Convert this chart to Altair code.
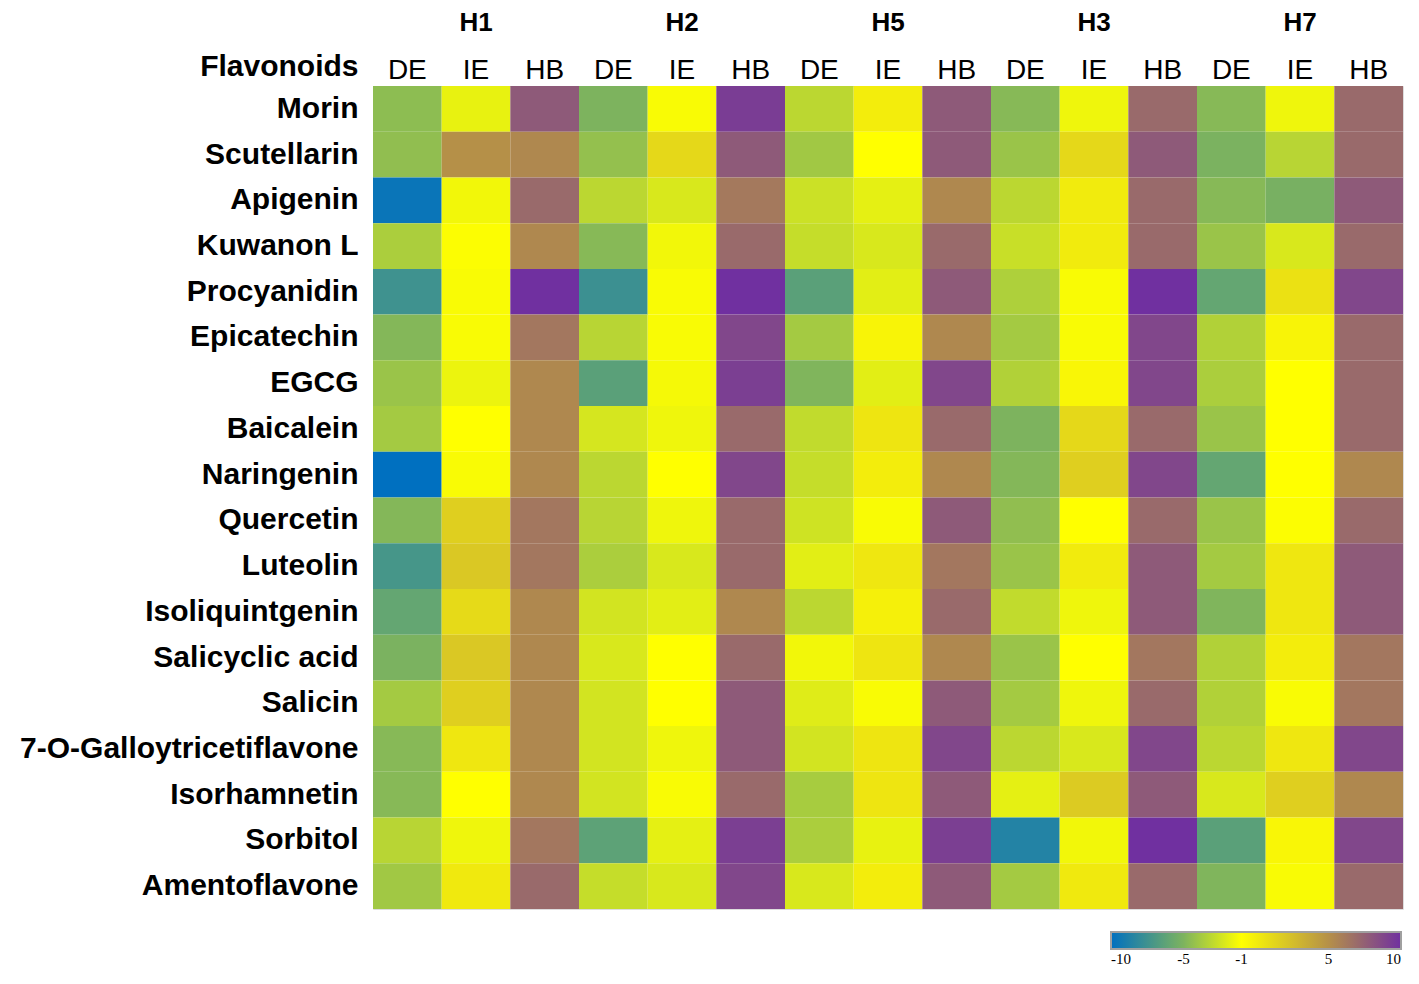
import altair as alt
import pandas as pd

flavonoids = ["Morin", "Scutellarin", "Apigenin", "Kuwanon L", "Procyanidin",
              "Epicatechin", "EGCG", "Baicalein", "Naringenin", "Quercetin",
              "Luteolin", "Isoliquintgenin", "Salicyclic acid", "Salicin",
              "7-O-Galloytricetiflavone", "Isorhamnetin", "Sorbitol", "Amentoflavone"]

groups = ["H1", "H2", "H5", "H3", "H7"]
metrics = ["DE", "IE", "HB"]

H1_DE = [-4.5, -4.4, -9.6, -3.6, -7.5, -4.8, -4.1, -3.8, -10, -4.8, -7.2, -6, -5.1, -3.8, -4.7, -4.7, -3.2, -3.9]
H1_IE = [-1.7, 5, -1.4, -1.1, -1.2, -1.2, -1.6, -1, -1.2, 1.6, 2, 1, 2, 1.6, 0.3, -1, -1.5, 0.2]
H1_HB = [7.8, 5.4, 7, 5.4, 10, 6.3, 5.4, 5.4, 5.4, 6.3, 6.3, 5.4, 5.4, 5.4, 5.4, 5.4, 6.3, 7]
H2_DE = [-5, -4.3, -3.1, -4.7, -7.6, -3.2, -6.4, -2.3, -3.1, -3.2, -3.6, -2.4, -2.2, -2.4, -2.4, -2.4, -6.3, -2.8]
H2_IE = [-1.2, 1.1, -2.2, -1.4, -1.2, -1.2, -1.3, -1.5, -1, -1.5, -2.2, -1.9, -1, -1, -1.5, -1.2, -1.8, -2.2]
H2_HB = [9.3, 7.8, 6.2, 7, 10, 8.8, 9.2, 7, 8.8, 7, 7, 5.4, 7, 7.8, 7.8, 7, 9.2, 8.8]
H5_DE = [-3.1, -3.9, -2.6, -2.8, -6.4, -3.8, -4.9, -2.9, -2.8, -2.5, -1.9, -3.1, -1.4, -2, -2.4, -3.7, -3.6, -2.2]
H5_IE = [0, -1, -1.8, -2.2, -1.9, -0.4, -1.9, 0.4, 0, -1.2, 0.3, -0.2, 0.4, -1.2, 0.4, 0.4, -1.7, 0]
H5_HB = [7.8, 7.8, 5.4, 7, 7.8, 5.4, 8.8, 7, 5.4, 7.8, 6.3, 7, 5.4, 7.8, 8.8, 7.8, 9.2, 7.8]
H3_DE = [-4.7, -4.1, -3.1, -2.7, -3.5, -3.8, -3.4, -5, -4.8, -4.4, -4.1, -2.9, -4.1, -3.8, -3.1, -1.8, -8.6, -3.8]
H3_IE = [-1.5, 1.1, 0.1, 0.1, -1.2, -1.2, -0.5, 1.1, 1.6, -1, 0.1, -1.5, -1, -1.5, -2.2, 1.8, -1.4, 0.2]
H3_HB = [7, 7.8, 7, 7, 10, 8.8, 8.8, 7, 8.8, 7, 7.8, 7.8, 6.3, 7, 8.8, 7.8, 10, 7]
H7_DE = [-4.7, -5.1, -4.7, -4.1, -6, -3.4, -3.6, -4.1, -6, -4.1, -3.8, -4.9, -3.4, -3.4, -3.1, -2.2, -6.4, -4.9]
H7_IE = [-1.5, -3.2, -5.2, -2.2, 0.6, -0.4, -1, -1, -1, -1.1, 0.3, 0.3, 0, -1.2, 0.3, 1.6, -0.5, -1.2]
H7_HB = [7, 7, 7.8, 7, 8.8, 7, 7, 7, 5.4, 7, 7.8, 7.8, 6.3, 6.3, 8.8, 5.4, 8.8, 7]

series = {
    ("H1", "DE"): H1_DE, ("H1", "IE"): H1_IE, ("H1", "HB"): H1_HB,
    ("H2", "DE"): H2_DE, ("H2", "IE"): H2_IE, ("H2", "HB"): H2_HB,
    ("H5", "DE"): H5_DE, ("H5", "IE"): H5_IE, ("H5", "HB"): H5_HB,
    ("H3", "DE"): H3_DE, ("H3", "IE"): H3_IE, ("H3", "HB"): H3_HB,
    ("H7", "DE"): H7_DE, ("H7", "IE"): H7_IE, ("H7", "HB"): H7_HB,
}

legend_ticks = [-10, -5, -1, 5, 10]
color_stops = ["#0070C0", "#7DB35E", "#FFFF00", "#B59048", "#7030A0"]

col_keys = [f"{g}|{m}" for g in groups for m in metrics]

rows = []
for g in groups:
    for m in metrics:
        for f, v in zip(flavonoids, series[(g, m)]):
            rows.append({"col": f"{g}|{m}", "flavonoid": f, "value": v})
df = pd.DataFrame(rows)

hdr = pd.DataFrame({"group": groups, "col": [f"{g}|IE" for g in groups]})

FONT = "Liberation Sans"

x_scale = alt.Scale(domain=col_keys, paddingInner=0, paddingOuter=0)

heat = alt.Chart(df).mark_rect(strokeWidth=0).encode(
    x=alt.X("col:N", scale=x_scale,
            axis=alt.Axis(orient="top", title=None, labelAngle=0,
                          labelExpr="split(datum.label, '|')[1]",
                          labelFont=FONT, labelFontSize=28, labelFontWeight="normal",
                          labelColor="#000000", labelBaseline="alphabetic",
                          labelPadding=8, ticks=False, tickSize=0, domain=False)),
    y=alt.Y("flavonoid:N", scale=alt.Scale(domain=flavonoids, paddingInner=0, paddingOuter=0),
            axis=alt.Axis(title="Flavonoids", titleAngle=0, titleAlign="right",
                          titleBaseline="middle", titleX=-15, titleY=-20,
                          titleFont=FONT, titleFontSize=30, titleFontWeight="bold",
                          titleColor="#000000",
                          labelFont=FONT, labelFontSize=30, labelFontWeight="bold",
                          labelColor="#000000", labelPadding=15, labelLimit=600,
                          ticks=False, tickSize=0, domain=False)),
    color=alt.Color("value:Q",
                    scale=alt.Scale(type="linear", domain=legend_ticks, range=color_stops,
                                    interpolate="rgb", clamp=True),
                    legend=alt.Legend(orient="none", legendX=738, legendY=846,
                                      direction="horizontal", title=None,
                                      gradientLength=290, gradientThickness=17,
                                      gradientStrokeColor="#a0a0a0", gradientStrokeWidth=2,
                                      values=legend_ticks, labelOverlap=False,
                                      labelExpr="datum.value < 0 ? '-' + abs(datum.value) : '' + datum.value",
                                      labelFont="Liberation Serif", labelFontSize=15,
                                      labelColor="#000000", labelOffset=3)),
)

headers = alt.Chart(hdr).mark_text(font=FONT, fontSize=26, fontWeight="bold",
                                   color="#000000", baseline="middle").encode(
    x=alt.X("col:N", scale=x_scale),
    y=alt.value(-63),
    text="group:N",
)

chart = alt.layer(heat, headers).properties(
    width=1030, height=823,
    padding={"left": 365, "top": 78, "right": 8, "bottom": 62},
    autosize=alt.AutoSizeParams(type="none"),
).configure_view(stroke=None).configure(background="white")

chart.save("out.html", embed_options={"renderer": "svg", "actions": False})
